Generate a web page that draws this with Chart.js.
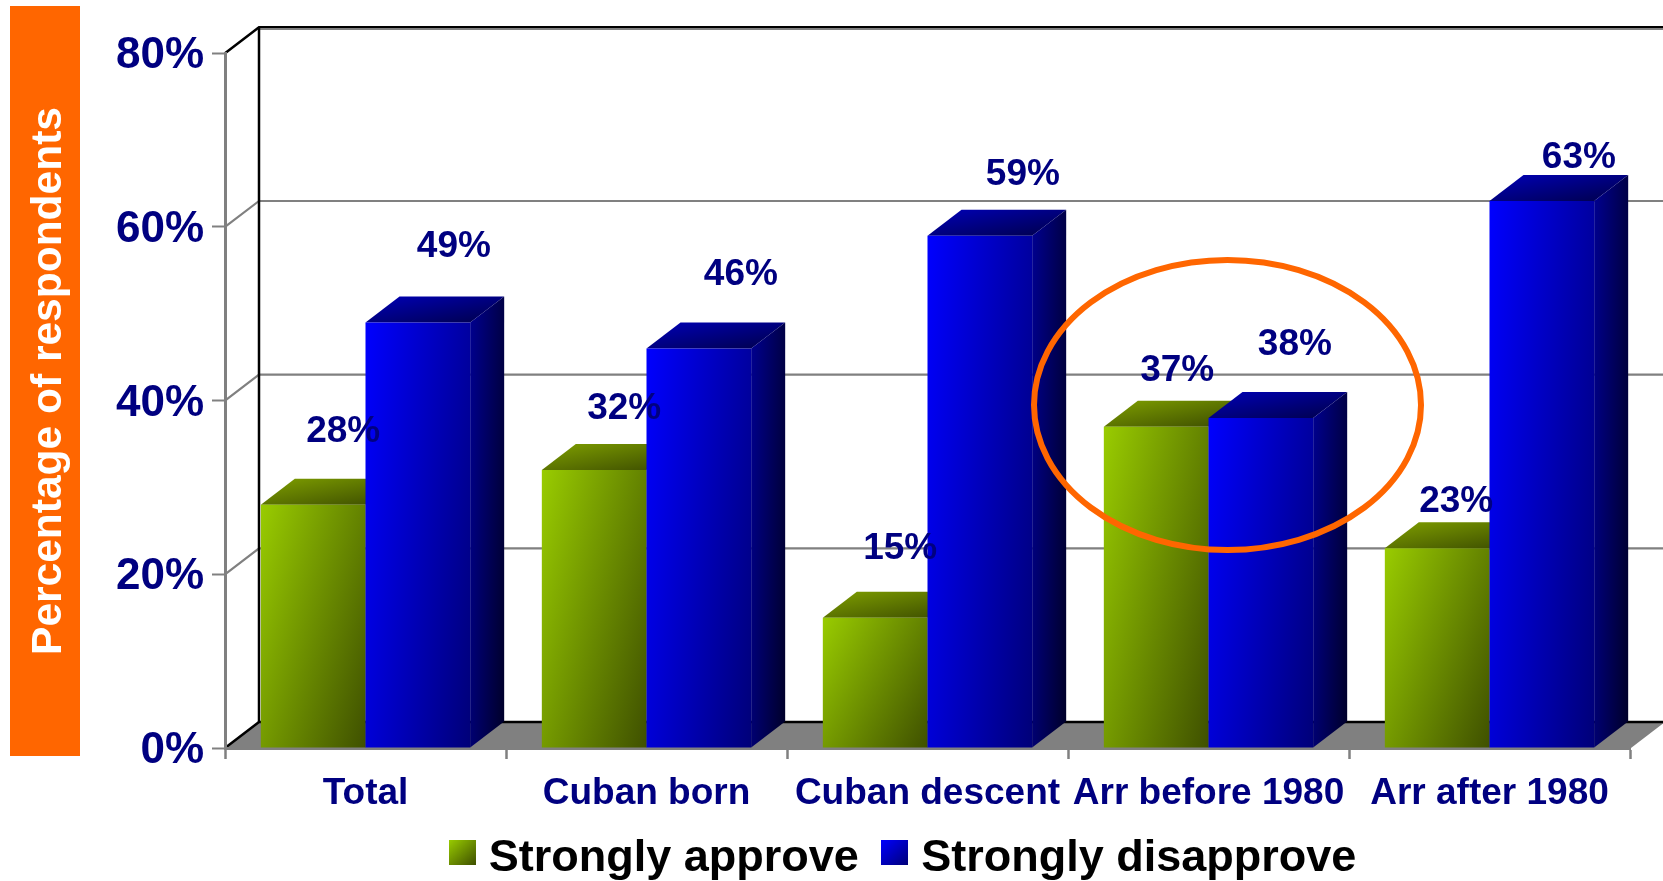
<!DOCTYPE html>
<html><head><meta charset="utf-8">
<style>html,body{margin:0;padding:0;background:#fff}canvas{display:block}</style>
<script src="https://cdn.jsdelivr.net/npm/chart.js@4/dist/chart.umd.min.js"></script>
</head><body><canvas id="c" width="1663" height="881"></canvas>
<script>
const categories = ['Total','Cuban born','Cuban descent','Arr before 1980','Arr after 1980'];
const approve = [28,32,15,37,23];
const disapprove = [49,46,59,38,63];
const yTicks = [0,20,40,60,80];
const seriesNames = ['Strongly approve','Strongly disapprove'];
const axisTitle = 'Percentage of respondents';
// hand-placed label nudges of the original (dx, dy from bar top centre)
const approveNudge = [[30,-73],[30,-61],[25,-69],[21,-56],[19,-46]];
const disapproveNudge = [[36,-76],[42,-74],[43,-61],[34,-73],[37,-43]];

const FONT = '"Liberation Sans", Arial, sans-serif';
const NAVY = '#000080', ORANGE = '#FF6600', GREY = '#808080';
const DX = 34, DY = 26;

// gradient with t = wu*u + wv*v over the box (u, v normalised box coordinates)
function cornerGrad(ctx, l, t, w, h, c0, c1, wu, wv) {
  wu = wu === undefined ? 0.5 : wu; wv = wv === undefined ? 0.5 : wv;
  const gx = wu/w, gy = wv/h, n = gx*gx+gy*gy;
  const g = ctx.createLinearGradient(l, t, l+gx/n, t+gy/n);
  g.addColorStop(0, c0); g.addColorStop(1, c1);
  return g;
}
const palette = [
  {front:['#99CC00','#3F5000'], top:['#7F9F00','#3A4A00'], side:['#5F7A00','#2A3500'], wu:0.6, wv:0.4},
  {front:['#0000FF','#000078'], top:['#0000B8','#000048'], side:['#000090','#000028'], wu:0.7, wv:0.3}
];
function swatch(p) {
  const cv = document.createElement('canvas'); cv.width = 27; cv.height = 37;
  const x = cv.getContext('2d');
  x.fillStyle = cornerGrad(x,0,0,27,25,p.front[0],p.front[1]);
  x.fillRect(0,0,27,25);
  return cv;
}
function frontFill(c) {
  const chart = c.chart, xs = chart.scales.x, ys = chart.scales.y;
  if (!xs || c.dataIndex === undefined) return palette[c.datasetIndex].front[0];
  const w = xs.width/categories.length*0.745/2;
  const center = xs.getPixelForValue(c.dataIndex);
  const l = c.datasetIndex === 0 ? center-w : center;
  const t = ys.getPixelForValue(c.raw), b = ys.getPixelForValue(0);
  const p = palette[c.datasetIndex];
  return cornerGrad(chart.ctx, l, t, w, b-t, p.front[0], p.front[1], p.wu, p.wv);
}
function poly(ctx, pts, fill) {
  ctx.beginPath(); pts.forEach((q,i)=> i?ctx.lineTo(q[0],q[1]):ctx.moveTo(q[0],q[1])); ctx.closePath();
  ctx.fillStyle = fill; ctx.fill();
}
function drawFaces(chart, meta, index) {
  const ctx = chart.ctx, p = palette[index];
  ctx.save();
  meta.data.forEach(el=>{
    const L = el.x-el.width/2, R = el.x+el.width/2, T = el.y, B = el.base;
    poly(ctx, [[L,T],[L+DX,T-DY],[R+DX,T-DY],[R,T]], cornerGrad(ctx,L,T-DY,el.width+DX,DY,p.top[0],p.top[1]));
    poly(ctx, [[R,T],[R+DX,T-DY],[R+DX,B-DY],[R,B]], cornerGrad(ctx,R,T-DY,DX,B-T+DY,p.side[0],p.side[1],0.7,0.3));
  });
  ctx.restore();
}
const stage = {
  id:'stage',
  beforeInit(chart){
    const lg = chart.legend, fit = lg.fit;
    lg.fit = function(){ fit.call(lg); lg.height = 0; };
  },
  afterLayout(chart){
    const lg = chart.legend;
    lg.left = 151.5; lg.right = 1663; lg.top = 804; lg.bottom = 881;
    lg.width = lg.right-lg.left; lg.height = lg.bottom-lg.top;
    const ti = chart.titleBlock;
    ti.left = 24; ti.right = 94; ti.top = 6; ti.bottom = 756; ti.width = 70; ti.height = 750;
  },
  beforeDraw(chart){
    const {ctx, scales:{x,y}} = chart;
    y.getLabelItems().forEach(it=>{ it.textOffset += 3; });
    x.getLabelItems().forEach(it=>{ it.textOffset -= 1; });
    const l = x.left, r = x.right + 1, y0 = y.getPixelForValue(0), W = chart.width;
    const yTop = y.getPixelForValue(yTicks[yTicks.length-1]);
    ctx.save();
    ctx.fillStyle = ORANGE; ctx.fillRect(10,6,70,750);
    poly(ctx, [[l,y0],[l+DX,y0-DY],[W+2,y0-DY],[r,y0]], GREY);
    yTicks.forEach(v=>{
      const py = y.getPixelForValue(v);
      const edge = (v===0 || v===yTicks[yTicks.length-1]);
      ctx.strokeStyle = edge ? '#000' : GREY; ctx.lineWidth = edge ? 2.5 : 2.2;
      ctx.beginPath(); ctx.moveTo(l,py); ctx.lineTo(l+DX,py-DY); ctx.lineTo(W,py-DY); ctx.stroke();
    });
    ctx.strokeStyle = GREY; ctx.lineWidth = 1.2;
    ctx.beginPath(); ctx.moveTo(l+DX,yTop-DY+2); ctx.lineTo(W,yTop-DY+2); ctx.stroke();
    ctx.strokeStyle = '#000'; ctx.lineWidth = 2.5;
    ctx.beginPath(); ctx.moveTo(l+DX,yTop-DY); ctx.lineTo(l+DX,y0-DY); ctx.stroke();
    ctx.restore();
  },
  // Dataset 1 is painted right after dataset 0, so the blue bar sits in front of the green one.
  beforeDatasetDraw(chart, args){
    if (args.index === 1) return false;
    drawFaces(chart, args.meta, args.index);
  },
  afterDatasetDraw(chart, args){
    if (args.index !== 0) return;
    const blue = chart.getDatasetMeta(1);
    drawFaces(chart, blue, 1);
    blue.controller.draw();
  },
  afterDatasetsDraw(chart){
    const ctx = chart.ctx;
    ctx.save();
    ctx.font = 'bold 37px '+FONT; ctx.fillStyle = NAVY; ctx.textAlign='center'; ctx.textBaseline='middle';
    [approveNudge, disapproveNudge].forEach((nudge,ds)=>{
      chart.getDatasetMeta(ds).data.forEach((el,i)=>{
        ctx.fillText(chart.data.datasets[ds].data[i]+'%', el.x+nudge[i][0], el.y+nudge[i][1]);
      });
    });
    // highlight ring around the "Arr before 1980" group
    const xs = chart.scales.x, ys = chart.scales.y;
    ctx.strokeStyle = ORANGE; ctx.lineWidth = 6;
    ctx.beginPath();
    ctx.ellipse(xs.getPixelForValue(3)+19, ys.getPixelForValue(39.5), 193.5, 145, 0, 0, Math.PI*2);
    ctx.stroke();
    ctx.restore();
  }
};
new Chart(document.getElementById('c'), {
  type:'bar',
  data:{labels:categories, datasets:[
    {label:seriesNames[0], data:approve, backgroundColor:frontFill, borderWidth:0, categoryPercentage:0.745, barPercentage:1},
    {label:seriesNames[1], data:disapprove, backgroundColor:frontFill, borderWidth:0, categoryPercentage:0.745, barPercentage:1}
  ]},
  plugins:[stage],
  options:{
    responsive:false, animation:false, devicePixelRatio:1,
    layout:{padding:{top:53.3,right:33,left:0,bottom:0}},
    plugins:{
      tooltip:{enabled:false},
      title:{display:true, text:axisTitle, position:'left', color:'#fff', padding:0,
        font:{family:FONT, size:42.5, weight:'bold'}},
      legend:{display:true, position:'bottom', align:'center',
        labels:{usePointStyle:true, pointStyleWidth:8, boxHeight:27, padding:32, color:'#000',
          font:{family:FONT, size:45, weight:'bold'},
          generateLabels(){ return seriesNames.map((t,i)=>({text:t, pointStyle:swatch(palette[i]), datasetIndex:i, lineWidth:0, strokeStyle:'transparent', fillStyle:palette[i].front[0]})); }
        }}
    },
    scales:{
      x:{offset:true,
        afterFit(s){ s.height = 133; },
        grid:{offset:true, drawOnChartArea:false, drawTicks:true, tickLength:11, tickColor:GREY, tickWidth:2.5},
        border:{color:GREY, width:3},
        ticks:{color:NAVY, padding:14, maxRotation:0, autoSkip:false, font:{family:FONT, size:37, weight:'bold'}}
      },
      y:{min:0, max:80,
        afterFit(s){ s.width = 225 - 51; },
        afterBuildTicks(s){ s.ticks = yTicks.map(v=>({value:v})); },
        grid:{drawOnChartArea:false, drawTicks:true, tickLength:13, tickColor:GREY, tickWidth:2},
        border:{color:GREY, width:3},
        ticks:{color:NAVY, padding:8, callback:v=>v+'%', font:{family:FONT, size:44, weight:'bold'}}
      }
    }
  }
});
</script></body></html>
